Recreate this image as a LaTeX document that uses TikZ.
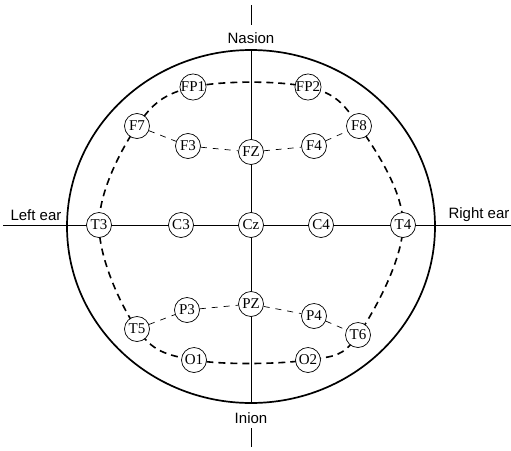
\documentclass[tikz,border=0pt]{standalone}
\usepackage{fontspec}
\setmainfont{Liberation Serif}
\newfontfamily\labelfont{Liberation Sans}
\pgfdeclarelayer{bg}
\pgfsetlayers{bg,main}
\begin{document}
\begin{tikzpicture}[x=1pt,y=-1pt,
  electrode/.style={circle,draw,fill=white,minimum size=25pt,inner sep=0pt,
    font=\fontsize{15}{15}\selectfont,line width=0.7pt},
  side/.style={font=\labelfont\fontsize{15}{15}\selectfont,inner sep=0pt},
  ringline/.style={line width=1.6pt,dash pattern=on 7pt off 5pt},
  innerline/.style={line width=0.7pt,dash pattern=on 6pt off 6pt},
  axisline/.style={line width=0.8pt},
  headline/.style={line width=1.7pt}]
\useasboundingbox (0,0) rectangle (511,450);

% electrodes
\node[electrode] (FP1) at (193,87) {FP1};
\node[electrode] (FP2) at (308,87) {FP2};
\node[electrode] (F7) at (137,126) {F7};
\node[electrode] (F8) at (359,126) {F8};
\node[electrode] (F3) at (188,146) {F3};
\node[electrode] (FZ) at (251,152) {FZ};
\node[electrode] (F4) at (314,146) {F4};
\node[electrode] (T3) at (99,225) {T3};
\node[electrode] (C3) at (181,225) {C3};
\node[electrode] (Cz) at (251,225) {Cz};
\node[electrode] (C4) at (321,225) {C4};
\node[electrode] (T4) at (403,225) {T4};
\node[electrode] (P3) at (187,310) {P3};
\node[electrode] (PZ) at (251,304) {PZ};
\node[electrode] (P4) at (314,316) {P4};
\node[electrode] (T5) at (137,329) {T5};
\node[electrode] (T6) at (358,335) {T6};
\node[electrode] (O1) at (194,360) {O1};
\node[electrode] (O2) at (308,360) {O2};

% labels
\node[side] (nasion) at (251,38) {Nasion};
\node[side] (inion) at (251,418) {Inion};
\node[side] (lear) at (36,215) {Left ear};
\node[side] (rear) at (479,215) {Right ear};

% coordinates
\coordinate (nt1) at (251,5);
\coordinate (nt2) at (251,25);
\coordinate (ib1) at (251,428);
\coordinate (ib2) at (251,447);
\coordinate (htop) at (251,50);
\coordinate (hbot) at (251,403);
\coordinate (hl) at (3,225);
\coordinate (hr) at (511,225);

\begin{pgfonlayer}{bg}
  \draw[headline] (251,226.5) ellipse [x radius=184, y radius=176.5];
  \draw[axisline] (nt1) -- (nt2);
  \draw[axisline] (ib1) -- (ib2);
  \draw[axisline] (htop) -- (hbot);
  \draw[axisline] (hl) -- (hr);
  \draw[ringline] plot[smooth cycle, tension=0.6] coordinates
    {(T3.center) (F7.center) (FP1.center) (FP2.center) (F8.center)
     (T4.center) (T6.center) (O2.center) (O1.center) (T5.center)};
  \draw[innerline] (F7) -- (F3) -- (FZ) -- (F4) -- (F8);
  \draw[innerline] (T5) -- (P3) -- (PZ) -- (P4) -- (T6);
\end{pgfonlayer}
\end{tikzpicture}
\end{document}
